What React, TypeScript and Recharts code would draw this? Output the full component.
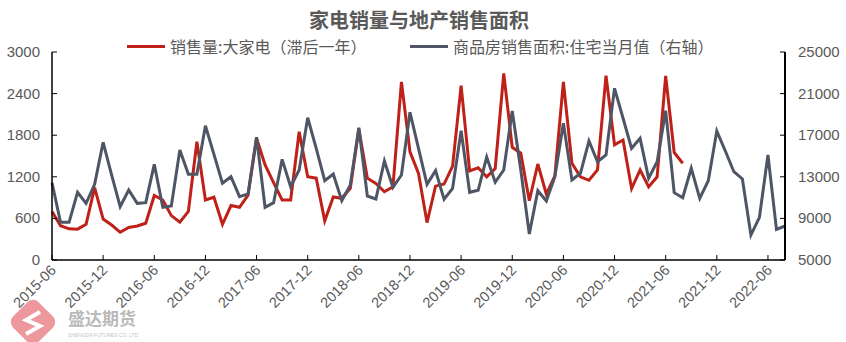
import { LineChart, Line, XAxis, YAxis } from "recharts"

// monthly categories 2015-06 .. 2022-08
const months: string[] = []
for (let k = 0; k < 87; k++) {
  const y = 2015 + Math.floor((5 + k) / 12)
  const m = ((5 + k) % 12) + 1
  months.push(`${y}-${m < 10 ? "0" + m : m}`)
}

// 销售量:大家电（滞后一年）, left axis
const applianceSales = [
  700, 495, 450, 445, 515, 1045, 590, 505, 400, 470,
  490, 530, 930, 865, 640, 545, 700, 1705, 865, 905,
  515, 785, 760, 935, 1755, 1370, 1115, 865, 865, 1850,
  1200, 1180, 565, 910, 890, 1035, 1890, 1180, 1105, 985,
  1055, 2570, 1560, 1250, 540, 1065, 1095, 1355, 2515, 1285,
  1330, 1200, 1320, 2690, 1625, 1540, 855, 1385, 950, 1215,
  2570, 1395, 1200, 1150, 1300, 2660, 1660, 1730, 1030, 1300,
  1055, 1200, 2655, 1550, 1395,
]

// 商品房销售面积:住宅当月值, right axis
const housingArea = [
  12430, 8625, 8625, 11510, 10450, 12280, 16320, 13170, 10125, 11730,
  10450, 10510, 14200, 10070, 10190, 15580, 13240, 13240, 17910, 15160,
  12375, 13010, 11090, 11350, 16800, 10070, 10510, 14680, 12050, 13650,
  18680, 15740, 12625, 13270, 10700, 12210, 17720, 11150, 10865, 14520,
  11990, 13170, 19200, 15740, 12280, 13590, 10840, 11890, 17430, 11510,
  11700, 14900, 12470, 13650, 19330, 13650, 7500, 11660, 10670, 13010,
  18140, 12690, 13340, 16440, 14450, 15100, 21510, 18630, 15740, 16700,
  12860, 14450, 19360, 11470, 10990, 13820, 10930, 12625, 17400, 15480,
  13490, 12790, 7400, 9105, 15100, 7950, 8270,
]

const xTicks = [
  "2015-06", "2015-12", "2016-06", "2016-12", "2017-06", "2017-12", "2018-06", "2018-12",
  "2019-06", "2019-12", "2020-06", "2020-12", "2021-06", "2021-12", "2022-06",
]
const leftTicks = [0, 600, 1200, 1800, 2400, 3000]
const rightTicks = [5000, 9000, 13000, 17000, 21000, 25000]

const RED = "#BF2119"
const GRAY = "#4E5666"
const TEXT = "#595959"
const FONT = "'Liberation Sans', 'Noto Sans CJK SC', sans-serif"

const data = months.map((month, i) => ({
  month,
  sales: i < applianceSales.length ? applianceSales[i] : null,
  area: housingArea[i],
}))

function XTick({ x, y, payload }: any) {
  return (
    <g>
      <line x1={x} x2={x} y1={y - 5} y2={y} stroke="#000" strokeWidth={1} />
      <text
        x={x + 5}
        y={y + 11}
        textAnchor="end"
        transform={`rotate(-45 ${x + 5} ${y + 11})`}
        fontSize={14.5}
        fill={TEXT}
        fontFamily={FONT}
      >
        {payload.value}
      </text>
    </g>
  )
}

function LeftTick({ x, y, payload }: any) {
  return (
    <g>
      <line x1={x} x2={x + 5} y1={y} y2={y} stroke="#000" strokeWidth={1} />
      <text x={x - 12} y={y + 5} textAnchor="end" fontSize={15} fill={TEXT} fontFamily={FONT}>
        {payload.value}
      </text>
    </g>
  )
}

function RightTick({ x, y, payload }: any) {
  return (
    <g>
      <line x1={x - 5} x2={x} y1={y} y2={y} stroke="#000" strokeWidth={1} />
      <text x={x + 13} y={y + 5} textAnchor="start" fontSize={15} fill={TEXT} fontFamily={FONT}>
        {payload.value}
      </text>
    </g>
  )
}

function LegendItem({ left, color, label }: { left: number; color: string; label: string }) {
  return (
    <div style={{ position: "absolute", left, top: 36, display: "flex", alignItems: "center", whiteSpace: "nowrap" }}>
      <span style={{ display: "inline-block", width: 38, height: 3, background: color, marginRight: 5 }} />
      <span style={{ fontSize: 16, color: TEXT, fontFamily: "'Noto Sans CJK SC', sans-serif", lineHeight: "20px" }}>
        {label}
      </span>
    </div>
  )
}

export default function App() {
  return (
    <div style={{ position: "relative", width: 846, height: 342, background: "#fff", overflow: "hidden" }}>
      <style>{`body{margin:0}`}</style>
      {/* watermark */}
      <svg width={846} height={342} style={{ position: "absolute", left: 0, top: 0 }}>
        <rect x={15} y={304} width={36} height={36} rx={8} fill="#E9868B" opacity={0.85} transform="rotate(45 33 322)" />
        <path d="M40 312 L26 320 L40 326 L26 334" stroke="#fff" strokeWidth={4} fill="none" />
        <text x={68} y={325} fontSize={17} fill="#B9B9B9" fontFamily="'Noto Sans CJK SC', sans-serif" fontWeight={700}>
          盛达期货
        </text>
        <text x={68} y={337} fontSize={5} fill="#C4C4C4" fontFamily={FONT}>
          SHENGDA FUTURES CO.,LTD.
        </text>
      </svg>
      <div style={{ position: "absolute", left: 0, top: 0 }}>
        <LineChart width={846} height={342} data={data} margin={{ top: 52, right: 6, left: 0, bottom: 12 }}>
          <XAxis
            dataKey="month"
            scale="point"
            padding={{ left: 0, right: 0 }}
            ticks={xTicks}
            interval={0}
            tickLine={false}
            tickSize={0}
            tickMargin={0}
            height={70}
            axisLine={{ stroke: "#000", strokeWidth: 1.5 }}
            tick={<XTick />}
          />
          <YAxis
            yAxisId="left"
            orientation="left"
            width={52}
            domain={[0, 3000]}
            ticks={leftTicks}
            tickLine={false}
            tickSize={0}
            tickMargin={0}
            axisLine={{ stroke: "#000", strokeWidth: 1.5 }}
            tick={<LeftTick />}
          />
          <YAxis
            yAxisId="right"
            orientation="right"
            width={55}
            domain={[5000, 25000]}
            ticks={rightTicks}
            tickLine={false}
            tickSize={0}
            tickMargin={0}
            axisLine={{ stroke: "#000", strokeWidth: 2 }}
            tick={<RightTick />}
          />
          <Line
            yAxisId="left"
            type="linear"
            dataKey="sales"
            stroke={RED}
            strokeWidth={3}
            dot={false}
            isAnimationActive={false}
          />
          <Line
            yAxisId="right"
            type="linear"
            dataKey="area"
            stroke={GRAY}
            strokeWidth={3}
            dot={false}
            isAnimationActive={false}
          />
        </LineChart>
      </div>
      <div
        style={{
          position: "absolute",
          left: 0,
          top: 6,
          width: 838,
          textAlign: "center",
          fontSize: 20,
          fontWeight: 700,
          color: TEXT,
          fontFamily: "'Noto Sans CJK SC', sans-serif",
          lineHeight: "28px",
        }}
      >
        家电销量与地产销售面积
      </div>
      <LegendItem left={127} color={RED} label="销售量:大家电（滞后一年）" />
      <LegendItem left={410} color={GRAY} label="商品房销售面积:住宅当月值（右轴）" />
    </div>
  )
}
